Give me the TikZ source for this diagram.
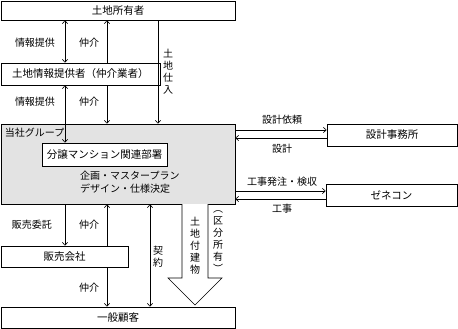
\documentclass[tikz,border=0pt]{standalone}
\usepackage{fontspec}
\setmainfont{Noto Sans CJK JP}
\usetikzlibrary{arrows.meta,calc}
\tikzset{
  box/.style={draw, line width=0.6pt, inner sep=0pt, font=\fontsize{10.5}{12}\selectfont},
  lbl/.style={inner sep=0pt, font=\fontsize{10}{11}\selectfont},
  vlbl/.style={inner sep=0pt, align=center, font=\fontsize{10}{12}\selectfont},
  conn/.style={line width=0.6pt, -{Straight Barb[length=3pt,width=5.5pt]}},
  dconn/.style={line width=0.6pt, {Straight Barb[length=3pt,width=5.5pt]}-{Straight Barb[length=3pt,width=5.5pt]}}
}
\begin{document}
\begin{tikzpicture}[x=1pt,y=-1pt]
\useasboundingbox (0,0) rectangle (458,329);
% boxes
\node[box, minimum width=234pt, minimum height=19pt] (owner) at (118,10.5) {土地所有者};
\node[box, minimum width=159pt, minimum height=22pt] (prov) at (80.5,74) {土地情報提供者（仲介業者）};
\node[box, fill=black!11, minimum width=234pt, minimum height=80pt] (grp) at (118,164) {};
\node[box, fill=white, minimum width=125pt, minimum height=23pt] (dept) at (104.5,154.5) {分譲マンション関連部署};
\node[box, minimum width=130pt, minimum height=22pt] (des) at (392,135) {設計事務所};
\node[box, minimum width=131pt, minimum height=22pt] (gen) at (391.5,195) {ゼネコン};
\node[box, minimum width=127pt, minimum height=21pt] (sales) at (64.5,256.5) {販売会社};
\node[box, minimum width=234pt, minimum height=21pt] (cust) at (118,317.5) {一般顧客};
% group texts
\node[lbl, anchor=north west] (grplbl) at ($(grp.north west)+(4,4)$) {当社グループ};
\node[lbl, align=left, anchor=west, font=\fontsize{10}{13.5}\selectfont] (plan) at (80,182) {企画・マスタープラン\\デザイン・仕様決定};
% x positions
\coordinate (xa) at (65,0);
\coordinate (xb) at (107,0);
\coordinate (xc) at (158,0);
\coordinate (xd) at (150,0);
% top connectors
\draw[dconn] (owner.south -| xa) -- (prov.north -| xa);
\draw[conn] (prov.north -| xb) -- (owner.south -| xb);
\draw[conn] (prov.south -| xb) -- (grp.north -| xb);
\draw[conn] (owner.south -| xc) -- (grp.north -| xc);
\draw[dconn] (prov.south -| xa) -- (dept.north -| xa);
\node[lbl] (l1) at (35,43) {情報提供};
\node[lbl] (l2) at (89,43) {仲介};
\node[lbl] (l3) at (35,102) {情報提供};
\node[lbl] (l4) at (89,102) {仲介};
\node[vlbl] (l5) at (168,72) {土\\地\\仕\\入};
% right connectors
\coordinate (y1) at (0,130);
\coordinate (y2) at (0,138);
\coordinate (y3) at (0,191);
\coordinate (y4) at (0,199);
\draw[conn] (grp.east |- y1) -- (des.west |- y1);
\draw[conn] (des.west |- y2) -- (grp.east |- y2);
\draw[conn] (grp.east |- y3) -- (gen.west |- y3);
\draw[conn] (gen.west |- y4) -- (grp.east |- y4);
\node[lbl] (r1) at (282,120) {設計依頼};
\node[lbl] (r2) at (282,149) {設計};
\node[lbl] (r3) at (282,182) {工事発注・検収};
\node[lbl] (r4) at (282,209) {工事};
% bottom connectors
\draw[conn] (grp.south -| xa) -- (sales.north -| xa);
\draw[conn] (sales.north -| xb) -- (grp.south -| xb);
\draw[conn] (sales.south -| xb) -- (cust.north -| xb);
\draw[dconn] (grp.south -| xd) -- (cust.north -| xd);
\node[lbl] (b1) at (32,225) {販売委託};
\node[lbl] (b2) at (89,225) {仲介};
\node[lbl] (b3) at (89,288) {仲介};
\node[vlbl] (b4) at (158,257) {契\\約};
% big hollow arrow
\draw[line width=0.6pt, fill=white, line join=miter] (182,204) -- (182,278) -- (168,278) -- (195,305) -- (222,278) -- (208,278) -- (208,204);
\node[vlbl] (b5) at (195,246) {土\\地\\付\\建\\物};
\node[vlbl] (b6) at (218,242) {︵\\区\\分\\所\\有\\︶};
\end{tikzpicture}
\end{document}
